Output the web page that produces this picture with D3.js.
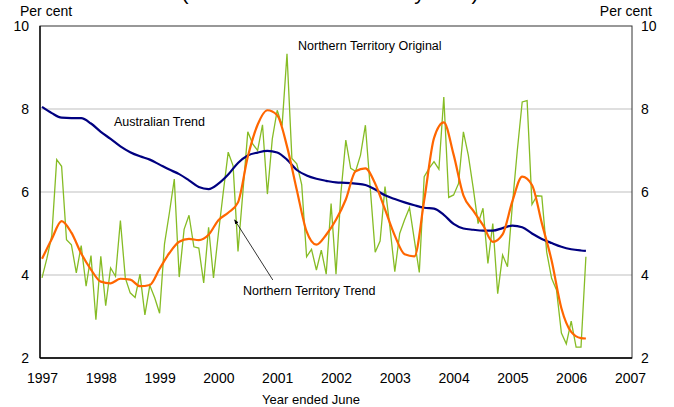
<!DOCTYPE html>
<html>
<head>
<meta charset="utf-8">
<script src="https://cdn.jsdelivr.net/npm/d3@7"></script>
<style>
  html, body { margin: 0; padding: 0; background: #ffffff; }
  svg { display: block; }
  text { font-family: "Liberation Sans", Arial, sans-serif; fill: #000; }
</style>
</head>
<body>
<div id="chart"></div>
<script>
// ---------------- DATA ----------------
const startYear = 1997;               // first monthly observation: January 1997
const yTicks = [2, 4, 6, 8, 10];
const xTickYears = [1997, 1998, 1999, 2000, 2001, 2002, 2003, 2004, 2005, 2006, 2007];

// Northern Territory Original (monthly, per cent)
const ntOriginal = [
  3.93, 4.40, 4.95, 6.78, 6.62, 4.85, 4.73, 4.05, 4.71, 3.73, 4.47, 2.92,
  4.45, 3.26, 4.17, 3.97, 5.31, 3.93, 3.57, 3.46, 4.02, 3.04, 3.75, 3.45,
  3.08, 4.75, 5.50, 6.31, 3.95, 5.10, 5.44, 4.68, 4.65, 3.81, 5.15, 3.93,
  5.00, 6.00, 6.96, 6.63, 4.57, 6.00, 7.45, 7.16, 7.00, 7.62, 5.95, 7.28,
  7.97, 7.60, 9.33, 6.81, 6.68, 6.18, 4.44, 4.62, 4.12, 4.60, 4.02, 5.72,
  4.02, 5.97, 7.25, 6.57, 6.50, 6.89, 7.61, 6.08, 4.55, 4.82, 6.13, 5.16,
  4.08, 5.00, 5.33, 5.62, 4.84, 4.06, 6.37, 6.57, 6.73, 6.55, 8.29, 5.87,
  5.93, 6.20, 7.45, 6.89, 6.10, 5.24, 5.61, 4.28, 5.24, 3.55, 4.48, 4.20,
  5.70, 7.00, 8.17, 8.20, 5.70, 5.91, 5.90, 4.55, 3.92, 3.64, 2.60, 2.34,
  2.89, 2.26, 2.26, 4.44
];

// Month offsets (from January 1997) at which the trend series were read
const trendMonths = [
   0,  2,  4,  6,  8, 10, 12, 14, 16, 18, 20, 22, 24, 26, 28, 30, 32, 34, 36, 38,
  40, 42, 44, 46, 48, 50, 52, 54, 56, 58, 60, 62, 64, 66, 68, 70, 72, 74, 76, 78,
  80, 82, 84, 86, 88, 90, 92, 94, 96, 98,100,102,104,106,108,110,111
];

// Northern Territory Trend (per cent)
const ntTrend = [
  4.39, 4.87, 5.30, 5.02, 4.52, 4.13, 3.84, 3.80, 3.91, 3.89, 3.73, 3.76, 4.15, 4.53, 4.80, 4.87, 4.84, 4.97, 5.32, 5.50,
  5.75, 6.85, 7.62, 7.97, 7.85, 7.10, 6.05, 5.05, 4.73, 4.97, 5.33, 5.82, 6.50, 6.57, 6.20, 5.58, 4.95, 4.50, 4.45, 5.80,
  7.30, 7.68, 6.90, 5.92, 5.55, 5.20, 4.80, 4.98, 5.78, 6.37, 6.17, 5.25, 4.35, 3.20, 2.63, 2.48, 2.47
];

// Australian Trend (per cent)
const ausTrend = [
  8.05, 7.90, 7.79, 7.78, 7.78, 7.65, 7.45, 7.28, 7.10, 6.96, 6.86, 6.78, 6.66, 6.54, 6.43, 6.28, 6.12, 6.07, 6.20, 6.42,
  6.70, 6.88, 6.95, 6.99, 6.95, 6.78, 6.53, 6.40, 6.32, 6.27, 6.23, 6.22, 6.20, 6.17, 6.06, 5.92, 5.83, 5.75, 5.68, 5.62,
  5.60, 5.45, 5.23, 5.12, 5.09, 5.07, 5.07, 5.13, 5.19, 5.15, 5.00, 4.87, 4.77, 4.68, 4.62, 4.59, 4.58
];

// ---------------- CHART ----------------
const W = 674, H = 407;
const svg = d3.select("#chart").append("svg").attr("width", W).attr("height", H);

const x = d3.scaleLinear().domain([1997, 2007]).range([42, 630]);
const y = d3.scaleLinear().domain([2, 10]).range([358, 26]);
const frameL = x(1997) - 2, frameR = x(2007) + 2;

const monthToYear = m => startYear + m / 12;

// Clipped title line (only its lowest part is visible in the reference)
svg.append("text")
  .attr("x", 330).attr("y", -0.5)
  .attr("text-anchor", "middle")
  .style("font-size", "21px")
  .text("(Trend series and Monthly data)");

// Gridlines
svg.append("g").selectAll("line")
  .data(yTicks.filter(d => d > 2 && d < 10))
  .join("line")
  .attr("x1", frameL).attr("x2", frameR)
  .attr("y1", d => y(d)).attr("y2", d => y(d))
  .attr("stroke", "#bfbfbf").attr("stroke-width", 1);

// Frame
svg.append("rect")
  .attr("x", frameL).attr("y", y(10))
  .attr("width", frameR - frameL).attr("height", y(2) - y(10))
  .attr("fill", "none").attr("stroke", "#333").attr("stroke-width", 1);
svg.append("line").attr("x1", frameL).attr("x2", frameR).attr("y1", y(2)).attr("y2", y(2))
  .attr("stroke", "#000").attr("stroke-width", 1.3);
svg.append("line").attr("x1", frameL).attr("x2", frameL).attr("y1", y(10)).attr("y2", y(2))
  .attr("stroke", "#000").attr("stroke-width", 1.3);

// Axes
const yLeft = svg.append("g").attr("transform", `translate(${frameL},0)`)
  .call(d3.axisLeft(y).tickValues(yTicks).tickSize(0).tickPadding(11).tickFormat(d3.format("d")));
const yRight = svg.append("g").attr("transform", `translate(${frameR},0)`)
  .call(d3.axisRight(y).tickValues(yTicks).tickSize(0).tickPadding(9).tickFormat(d3.format("d")));
const xAxis = svg.append("g").attr("transform", `translate(0,${y(2)})`)
  .call(d3.axisBottom(x).tickValues(xTickYears).tickSize(0).tickPadding(15).tickFormat(d3.format("d")));
[yLeft, yRight, xAxis].forEach(g => {
  g.select(".domain").remove();
  g.selectAll("text").style("font-size", "14px")
    .style("font-family", '"Liberation Sans", Arial, sans-serif').attr("fill", "#000");
});

// Axis titles
svg.append("text").attr("x", 20).attr("y", 16).style("font-size", "14px").text("Per cent");
svg.append("text").attr("x", 652).attr("y", 16).attr("text-anchor", "end").style("font-size", "14px").text("Per cent");
svg.append("text").attr("x", 311).attr("y", 404).attr("text-anchor", "middle").style("font-size", "13px").text("Year ended June");

// Lines
const lineOrig = d3.line()
  .x((d, i) => x(monthToYear(i)))
  .y(d => y(d));
const lineTrend = d3.line()
  .x(d => x(monthToYear(d[0])))
  .y(d => y(d[1]))
  .curve(d3.curveMonotoneX);

svg.append("path").datum(ntOriginal)
  .attr("d", lineOrig)
  .attr("fill", "none").attr("stroke", "#86bc25").attr("stroke-width", 1.3)
  .attr("stroke-linejoin", "miter");

svg.append("path").datum(trendMonths.map((m, k) => [m, ausTrend[k]]))
  .attr("d", lineTrend)
  .attr("fill", "none").attr("stroke", "#000080").attr("stroke-width", 2.2);

svg.append("path").datum(trendMonths.map((m, k) => [m, ntTrend[k]]))
  .attr("d", lineTrend)
  .attr("fill", "none").attr("stroke", "#ff6600").attr("stroke-width", 2.2);

// Annotations
svg.append("text").attr("x", 298).attr("y", 50).style("font-size", "12.5px").text("Northern Territory Original");
svg.append("text").attr("x", 114).attr("y", 126).style("font-size", "12.5px").text("Australian Trend");
svg.append("text").attr("x", 243).attr("y", 295).style("font-size", "12.5px").text("Northern Territory Trend");

// Arrow pointing to the NT trend line
svg.append("defs").append("marker")
  .attr("id", "arrowhead").attr("viewBox", "0 0 10 10")
  .attr("refX", 9).attr("refY", 5)
  .attr("markerWidth", 6).attr("markerHeight", 6)
  .attr("orient", "auto")
  .append("path").attr("d", "M0,1 L10,5 L0,9 Z").attr("fill", "#000");

svg.append("line")
  .attr("x1", x(monthToYear(47.1))).attr("y1", y(3.88))
  .attr("x2", x(monthToYear(39.3))).attr("y2", y(5.33))
  .attr("stroke", "#000").attr("stroke-width", 0.8)
  .attr("marker-end", "url(#arrowhead)");
</script>
</body>
</html>
